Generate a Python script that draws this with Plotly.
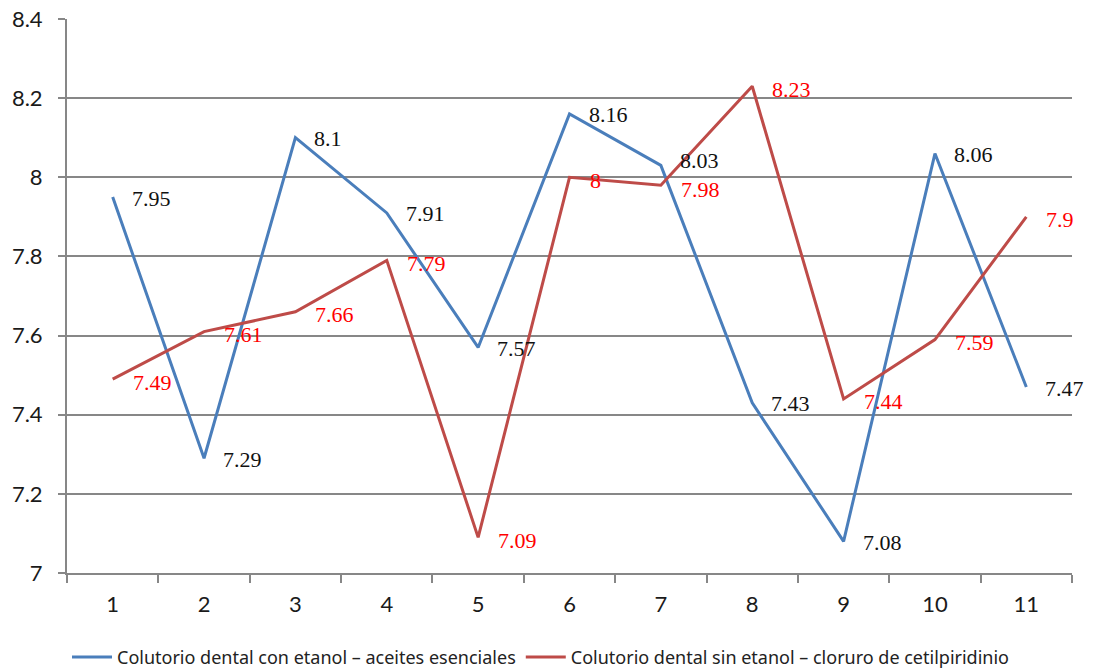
import plotly.graph_objects as go

categories = ["1", "2", "3", "4", "5", "6", "7", "8", "9", "10", "11"]
con_etanol = [7.95, 7.29, 8.1, 7.91, 7.57, 8.16, 8.03, 7.43, 7.08, 8.06, 7.47]
sin_etanol = [7.49, 7.61, 7.66, 7.79, 7.09, 8.0, 7.98, 8.23, 7.44, 7.59, 7.9]

name_con = "Colutorio dental con etanol – aceites esenciales"
name_sin = "Colutorio dental sin etanol – cloruro de cetilpiridinio"

BLUE = "#4A7EBB"
RED = "#BE4B48"
GRID = "#878787"

fig = go.Figure()
fig.add_trace(go.Scatter(x=categories, y=con_etanol, mode="lines", name=name_con,
                         line=dict(color=BLUE, width=3)))
fig.add_trace(go.Scatter(x=categories, y=sin_etanol, mode="lines", name=name_sin,
                         line=dict(color=RED, width=3)))

# value labels to the right of each point (x given as category index);
# when both series nearly coincide, the two labels are stacked around the midpoint
label_font = "Liberation Serif, Times New Roman, serif"
series = [(con_etanol, "#111111", 17, -1), (sin_etanol, "#FF0000", 18, -3)]
for k, (vals, color, xs, ys) in enumerate(series):
    other = series[1 - k][0]
    for i, v in enumerate(vals):
        pos = dict(y=v, yanchor="middle", yshift=ys)
        if abs(v - other[i]) < 0.08:
            mid = (v + other[i]) / 2
            pos = dict(y=mid, yanchor="bottom" if v > other[i] else "top", yshift=0)
        fig.add_annotation(x=i, text=f"{v:g}", showarrow=False, xanchor="left",
                           xshift=xs, font=dict(family=label_font, size=22, color=color),
                           **pos)

axis_font = dict(family="Lato, Noto Sans, sans-serif", size=22, color="#1a1a1a")

fig.update_layout(
    width=1096, height=671,
    margin=dict(l=67, r=24, t=19, b=98, autoexpand=False),
    paper_bgcolor="white", plot_bgcolor="white",
    showlegend=True,
    legend=dict(orientation="h", x=0.0, xanchor="left", y=-0.152, yanchor="middle",
                font=dict(family="Noto Sans, sans-serif", size=18, color="#222222"),
                itemwidth=40, tracegroupgap=0),
    xaxis=dict(type="category", range=[-0.5, 10.5], showgrid=False,
               showline=True, linecolor=GRID, linewidth=2,
               ticks="outside", tickson="boundaries", ticklen=8, tickwidth=2, tickcolor=GRID,
               ticklabelstandoff=11, tickfont=axis_font, fixedrange=True),
    yaxis=dict(range=[7, 8.4], dtick=0.2, tick0=7, showgrid=True, gridcolor=GRID, gridwidth=2,
               showline=True, linecolor=GRID, linewidth=2, zeroline=False,
               ticks="outside", ticklen=7, tickwidth=2, tickcolor=GRID,
               ticklabelstandoff=11, tickfont=axis_font, fixedrange=True),
)

fig.write_html("out.html")
